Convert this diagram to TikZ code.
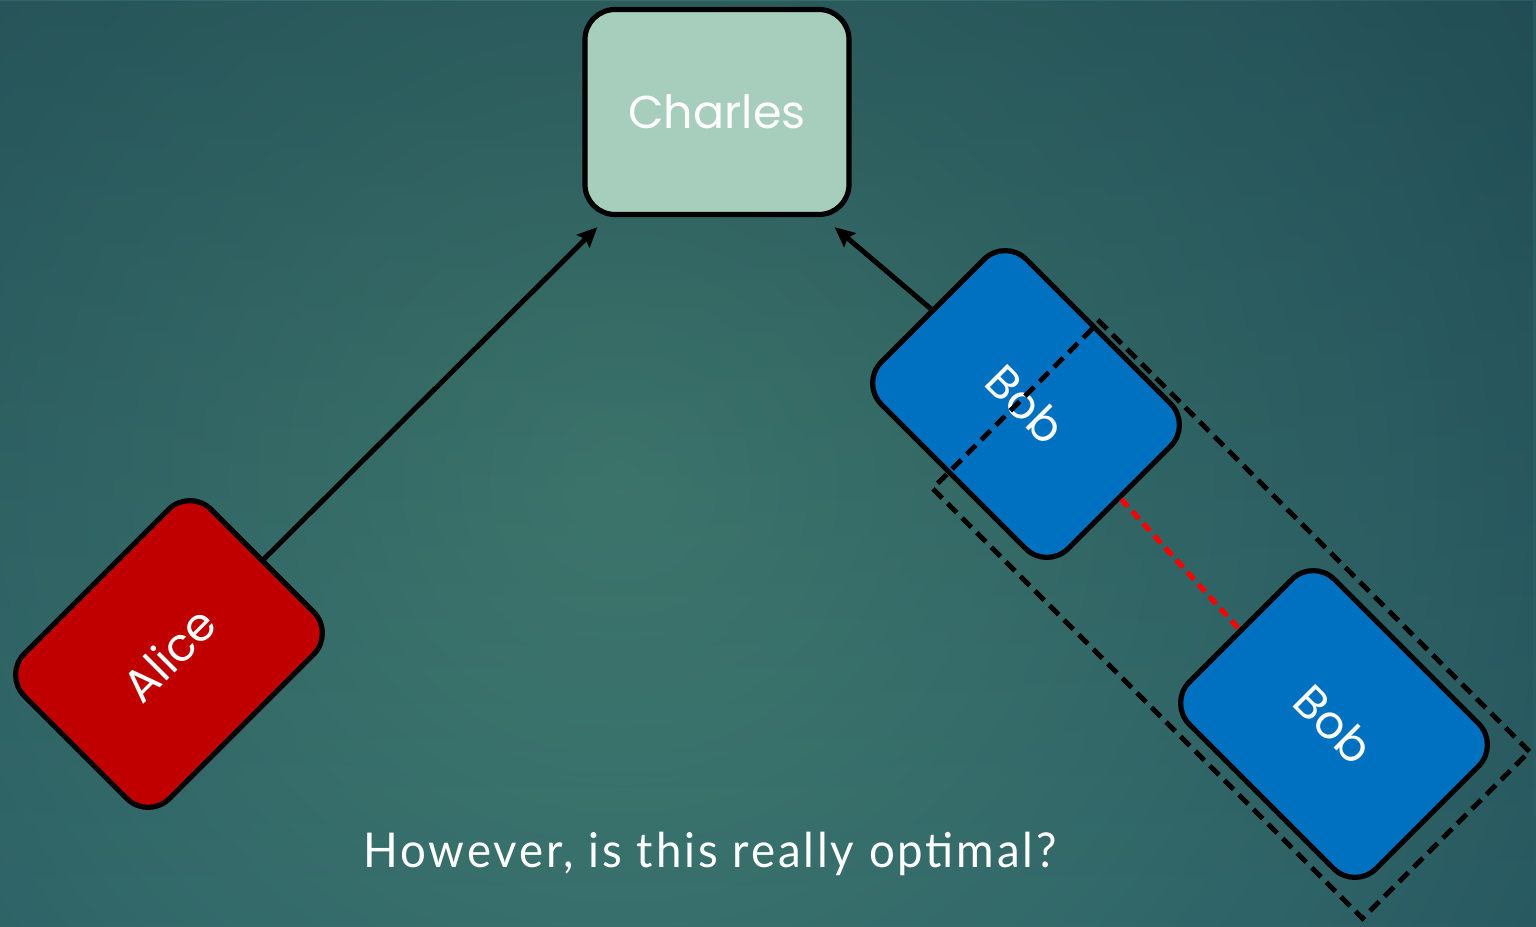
\documentclass[tikz,border=0pt]{standalone}
\usepackage{fontspec}
\setmainfont{Poppins}
\newfontfamily\notefont{Lato}[FakeStretch=0.95, LetterSpace=6]
\usetikzlibrary{arrows.meta,fadings}

\definecolor{bgcore}{HTML}{437F73}
\definecolor{bgmid}{HTML}{2F6468}
\definecolor{bgedge}{HTML}{1A4452}
\definecolor{charlesfill}{HTML}{A7CDBC}
\definecolor{alicefill}{HTML}{C00000}
\definecolor{bobfill}{HTML}{0070C0}
\definecolor{linkred}{HTML}{FF0000}

% soft glow behind the diagram
\pgfdeclareradialshading{backglow}{\pgfpoint{0bp}{0bp}}{%
  color(0bp)=(bgcore); color(17bp)=(bgmid); color(33bp)=(bgedge); color(50bp)=(bgedge)}

\begin{document}
\begin{tikzpicture}[x=0.5pt, y=-0.5pt,
  party/.style={draw=black, line width=2.6pt, rounded corners=15pt,
    minimum width=132pt, minimum height=102.5pt, inner sep=0pt,
    text=white, font=\fontsize{23}{28}\selectfont},
  link/.style={line width=2.5pt, -{Stealth[length=10pt, width=9pt, inset=1.5pt]}},
  grouping/.style={draw=black, line width=2.5pt, dash pattern=on 6.5pt off 3.8pt,
    minimum width=304pt, minimum height=118pt, inner sep=0pt, rotate=-45},
  pairing/.style={draw=linkred, line width=2.5pt, dash pattern=on 5pt off 3.2pt}]

  % background
  \useasboundingbox (0,0) rectangle (1536,926);
  \fill[bgedge] (0,0) rectangle (1536,926);
  \begin{scope}
    \clip (0,0) rectangle (1536,926);
    \shade[shading=backglow] (620,480) circle (1150);
  \end{scope}
  \fill[bgedge!70!black, opacity=0.3, path fading=south] (0,0) rectangle (1536,926);

  % parties
  \node[party, fill=charlesfill] (charles) at (717,112) {Charles};
  \node[party, fill=alicefill, rotate=45] (alice) at (169,654) {Alice};
  \node[party, fill=bobfill, rotate=-45] (bobA) at (1026,404) {Bob};
  \node[party, fill=bobfill, rotate=-45] (bobB) at (1334,724) {Bob};

  % the two Bobs grouped together
  \node[grouping] (pair) at (1231,620) {};
  \draw[pairing] (bobA.east) -- (bobB.west);

  % messages to Charles
  \coordinate (inL) at ([shift={(15,10)}]charles.south west);
  \coordinate (inR) at ([shift={(-17,10)}]charles.south east);
  \draw[link] (alice.east) -- (inL);
  \draw[link] (bobA.west) -- (inR);

  % question
  \node[anchor=base, text=white, inner sep=0pt,
    font=\notefont\fontsize{24}{28}\selectfont] (question) at (710,867)
    {However, is this really optimal?};
\end{tikzpicture}
\end{document}
